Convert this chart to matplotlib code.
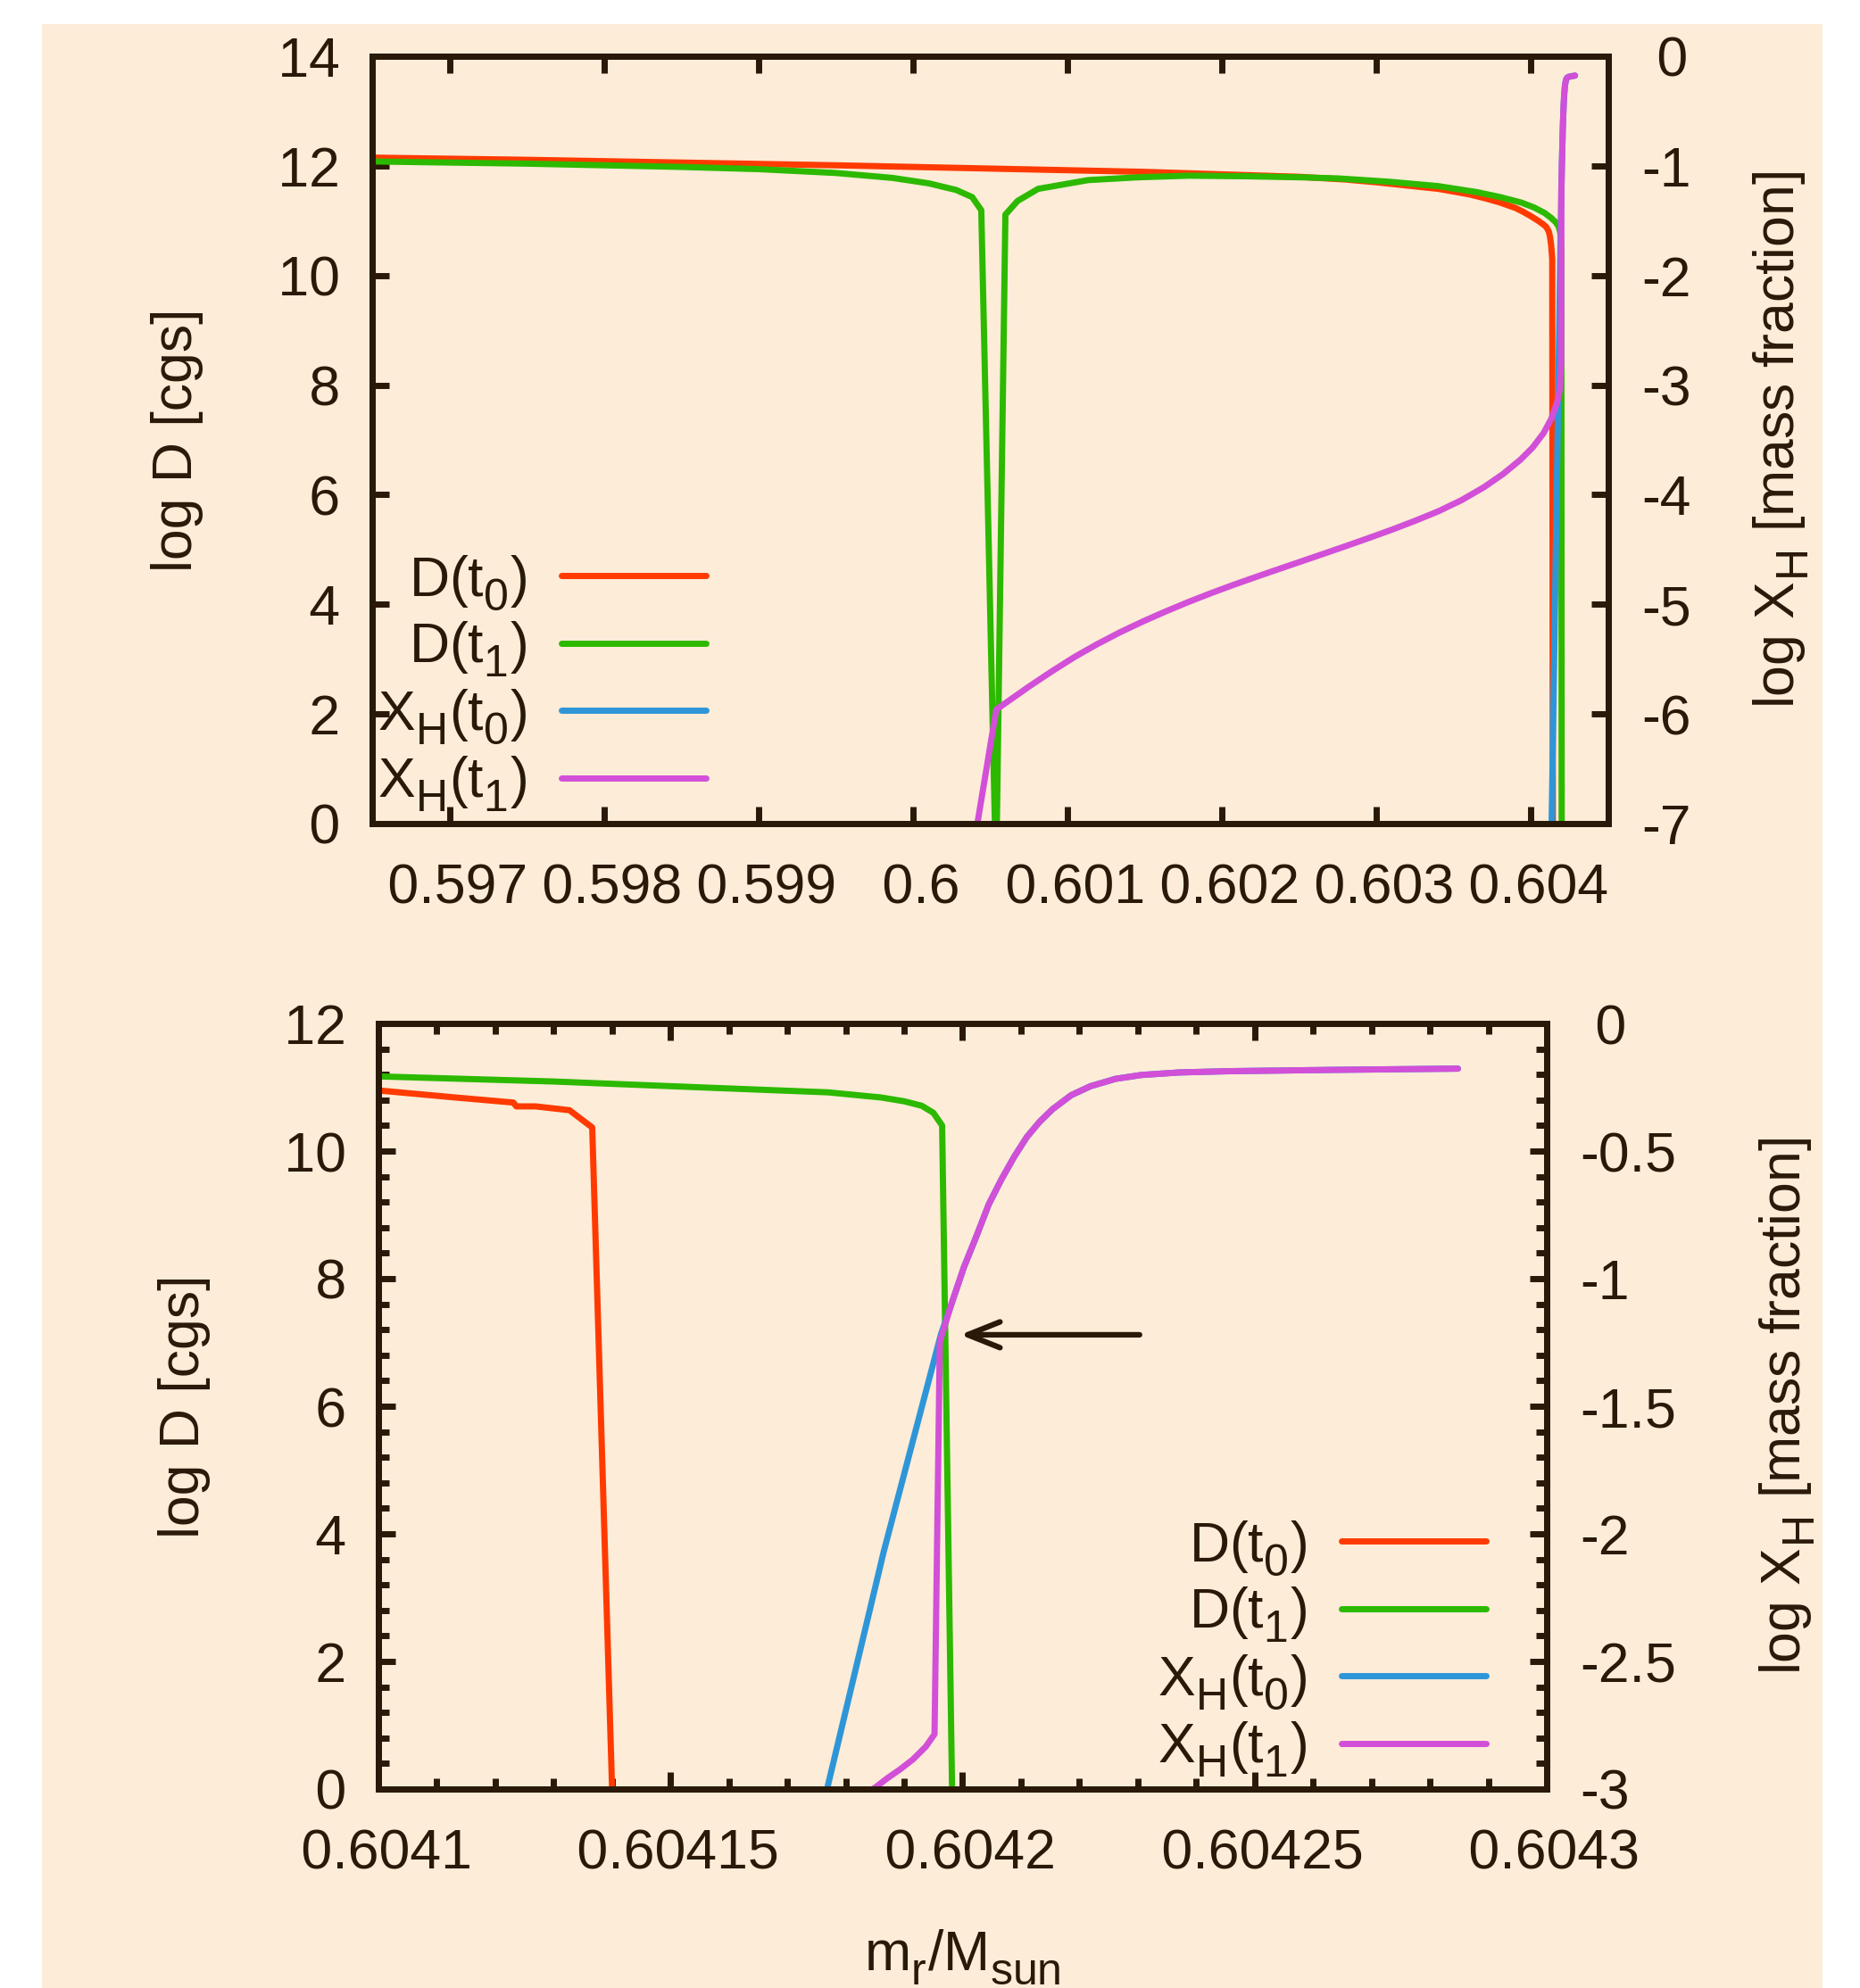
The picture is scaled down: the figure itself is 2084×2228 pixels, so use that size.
import numpy as np
import matplotlib
matplotlib.use('Agg')
import matplotlib.pyplot as plt
from matplotlib.patches import Rectangle

try:
    import matplotlib._mathtext as _mt
    _mt.SHRINK_FACTOR = 0.8
    _mt.FontConstantsBase.sub1 = 0.5
except Exception:
    pass

plt.rcParams['font.family'] = ['Liberation Sans', 'DejaVu Sans']
plt.rcParams['mathtext.fontset'] = 'custom'
plt.rcParams['mathtext.rm'] = 'Liberation Sans'
plt.rcParams['mathtext.it'] = 'Liberation Sans:italic'
plt.rcParams['mathtext.bf'] = 'Liberation Sans:bold'
plt.rcParams['mathtext.default'] = 'rm'

# ---------------- data: top panel ----------------
top_x_d0 = [0.5965, 0.5975, 0.5985, 0.5995, 0.6005, 0.6015, 0.6025, 0.6028, 0.6030, 0.6032,
            0.6034, 0.6036, 0.6037, 0.6038, 0.6039, 0.60395, 0.6040, 0.60405, 0.60408,
            0.60410, 0.604115, 0.604123, 0.60413, 0.604137, 0.604141]
top_d0 = [12.15, 12.11, 12.06, 12.01, 11.95, 11.89, 11.80, 11.75, 11.70, 11.64,
          11.58, 11.48, 11.41, 11.33, 11.23, 11.16, 11.08, 10.99, 10.93,
          10.88, 10.80, 10.70, 10.55, 10.30, -0.3]

top_x_d1 = [0.5965, 0.5975, 0.5985, 0.5990, 0.5995, 0.599867, 0.600103, 0.600279, 0.600383,
            0.600442, 0.600538, 0.600598, 0.600677, 0.600810, 0.601134, 0.601450, 0.601782,
            0.602150, 0.602518, 0.602754, 0.603080, 0.603399, 0.603650, 0.603800, 0.603937,
            0.604020, 0.604088, 0.60413, 0.60416, 0.604177, 0.604186, 0.604193,
            0.604196, 0.6041983]
top_d1 = [12.08, 12.04, 11.98, 11.94, 11.87, 11.78, 11.68, 11.56, 11.43,
          11.19, -1.0, 11.11, 11.36, 11.58, 11.74, 11.79, 11.82,
          11.81, 11.79, 11.77, 11.71, 11.63, 11.52, 11.43, 11.33,
          11.24, 11.14, 11.05, 10.97, 10.90, 10.82, 10.72,
          10.40, -0.3]

top_x_x0 = [0.604131, 0.6041768, 0.6041865, 0.6041963, 0.6041980, 0.6042002, 0.6042024,
            0.6042045, 0.6042067, 0.6042089, 0.6042110, 0.6042132, 0.6042154, 0.6042186,
            0.6042219, 0.6042262, 0.6042306, 0.6042371, 0.6042458, 0.6042631, 0.6042848]
top_x0 = [-7.2, -3.0, -2.07, -1.218, -1.106, -0.957, -0.832,
          -0.708, -0.609, -0.520, -0.445, -0.385, -0.336, -0.281,
          -0.246, -0.217, -0.202, -0.192, -0.187, -0.182, -0.177]

top_x_x1 = [0.600405, 0.600539, 0.600640, 0.600751, 0.600900, 0.601046, 0.601190, 0.601340,
            0.601490, 0.601635, 0.601780, 0.601929, 0.602075, 0.602224, 0.602370, 0.602518,
            0.602665, 0.602813, 0.602960, 0.603107, 0.603255, 0.603402, 0.603550, 0.603697,
            0.603820, 0.603932, 0.604010, 0.604080, 0.604130, 0.604168, 0.604185,
            0.6041937, 0.6041952, 0.6041961, 0.6041965, 0.6041980, 0.6042002, 0.6042024,
            0.6042045, 0.6042067, 0.6042089, 0.6042110, 0.6042132, 0.6042154, 0.6042186,
            0.6042219, 0.6042262, 0.6042306, 0.6042371, 0.6042458, 0.6042631, 0.6042848]
top_x1 = [-7.1, -5.96, -5.86, -5.75, -5.61, -5.48, -5.365, -5.255,
          -5.155, -5.065, -4.98, -4.898, -4.822, -4.748, -4.677, -4.606,
          -4.535, -4.463, -4.39, -4.315, -4.235, -4.15, -4.05, -3.93,
          -3.81, -3.68, -3.57, -3.44, -3.31, -3.16, -3.05,
          -2.834, -2.785, -1.25, -1.218, -1.106, -0.957, -0.832,
          -0.708, -0.609, -0.520, -0.445, -0.385, -0.336, -0.281,
          -0.246, -0.217, -0.202, -0.192, -0.187, -0.182, -0.177]

# ---------------- data: bottom panel ----------------
bot_x_d0 = [0.6041, 0.6041131, 0.6041231, 0.6041236, 0.6041269, 0.6041327, 0.6041366,
            0.6041400, 0.6041404]
bot_d0 = [10.95, 10.84, 10.76, 10.70, 10.70, 10.64, 10.37, 0.0, -0.15]

bot_x_d1 = [0.6041, 0.6041300, 0.6041574, 0.604177, 0.604186, 0.604190, 0.604193, 0.604195,
            0.6041965, 0.6041982, 0.6041983]
bot_d1 = [11.17, 11.09, 10.99, 10.92, 10.84, 10.78, 10.71, 10.60,
          10.40, 0.0, -0.15]

bot_x_x0 = [0.6041757, 0.6041768, 0.6041865, 0.6041963, 0.6041980, 0.6042002, 0.6042024,
            0.6042045, 0.6042067, 0.6042089, 0.6042110, 0.6042132, 0.6042154, 0.6042186,
            0.6042219, 0.6042262, 0.6042306, 0.6042371, 0.6042458, 0.6042631, 0.6042848]
bot_x0 = [-3.1, -3.0, -2.07, -1.218, -1.106, -0.957, -0.832,
          -0.708, -0.609, -0.520, -0.445, -0.385, -0.336, -0.281,
          -0.246, -0.217, -0.202, -0.192, -0.187, -0.182, -0.177]

bot_x_x1 = [0.604180, 0.6041850, 0.6041871, 0.6041893, 0.6041915, 0.6041937, 0.6041952,
            0.6041961, 0.6041965, 0.6041980, 0.6042002, 0.6042024, 0.6042045, 0.6042067,
            0.6042089, 0.6042110, 0.6042132, 0.6042154, 0.6042186, 0.6042219, 0.6042262,
            0.6042306, 0.6042371, 0.6042458, 0.6042631, 0.6042848]
bot_x1 = [-3.06, -2.995, -2.958, -2.923, -2.884, -2.834, -2.785,
          -1.25, -1.218, -1.106, -0.957, -0.832, -0.708, -0.609,
          -0.520, -0.445, -0.385, -0.336, -0.281, -0.246, -0.217,
          -0.202, -0.192, -0.187, -0.182, -0.177]

labels = ['D(t$_0$)', 'D(t$_1$)', 'X$_H$(t$_0$)', 'X$_H$(t$_1$)']

top_xticks = [0.597, 0.598, 0.599, 0.600, 0.601, 0.602, 0.603, 0.604]
top_yticks = [0, 2, 4, 6, 8, 10, 12, 14]
top_y2ticks = [-7, -6, -5, -4, -3, -2, -1, 0]
bot_xticks = [0.6041, 0.60415, 0.6042, 0.60425, 0.6043]
bot_yticks = [0, 2, 4, 6, 8, 10, 12]
bot_y2ticks = [-3, -2.5, -2, -1.5, -1, -0.5, 0]

arrow_tip = (0.6041996, -1.22)
arrow_tail = (0.6042303, -1.22)

# ---------------- style ----------------
INK = '#2a1908'
BG = '#fdecd8'
COLORS = ['#ff3a00', '#2cb900', '#2e96d8', '#d24fd8']
LW = 5.0
FS = 45
W, H = 2084, 2228

fig = plt.figure(figsize=(W / 100, H / 100), dpi=100)
fig.patch.set_facecolor('white')
fig.add_artist(Rectangle((47 / W, 0), (2042 - 47) / W, 1 - 27 / H,
                         transform=fig.transFigure, facecolor=BG,
                         edgecolor='none', zorder=-10))


def fmt(v):
    return f'{v: g}'


def make_panel(rect, xlim, ylim, y2lim, xticks, yticks, y2ticks, minor,
               data, leg_anchor, ylab_x, y2lab_x):
    l, r, t, b = rect
    ax = fig.add_axes([l / W, 1 - b / H, (r - l) / W, (b - t) / H])
    ax.set_facecolor('none')
    ax2 = ax.twinx()
    ax.set_xlim(*xlim)
    ax.set_ylim(*ylim)
    ax2.set_ylim(*y2lim)

    kw = dict(lw=LW, solid_capstyle='round', solid_joinstyle='round')
    lines = []
    (xa, ya), (xb, yb), (xc, yc), (xd, yd) = data
    lines += ax.plot(xa, ya, color=COLORS[0], **kw)
    lines += ax.plot(xb, yb, color=COLORS[1], **kw)
    lines += ax2.plot(xc, yc, color=COLORS[2], **kw)
    lines += ax2.plot(xd, yd, color=COLORS[3], **kw)

    ax.set_xticks(xticks, [fmt(v) for v in xticks])
    ax.set_yticks(yticks, [fmt(v) for v in yticks])
    ax2.set_yticks(y2ticks, [fmt(v) for v in y2ticks])
    for a in (ax, ax2):
        for s in a.spines.values():
            s.set_linewidth(5)
            s.set_color(INK)
            s.set_capstyle('projecting')
    ax.tick_params(axis='both', which='major', direction='in', length=14, width=5,
                   color=INK, labelcolor=INK, labelsize=FS)
    ax.tick_params(axis='x', which='both', top=True, bottom=True, pad=31)
    ax.tick_params(axis='y', which='both', left=True, right=False, pad=26)
    ax2.tick_params(axis='y', which='major', direction='in', length=14, width=5,
                    color=INK, labelcolor=INK, labelsize=FS, pad=27)
    for lab in ax2.get_yticklabels():
        lab.set_horizontalalignment('left')
    if minor is not None:
        mx, my, my2 = minor
        ax.set_xticks(np.arange(xlim[0], xlim[1] + mx / 2, mx), minor=True)
        ax.set_yticks(np.arange(ylim[0], ylim[1] + my / 2, my), minor=True)
        ax2.set_yticks(np.arange(y2lim[0], y2lim[1] + my2 / 2, my2), minor=True)
        ax.tick_params(which='minor', direction='in', length=8.5, width=5, color=INK)
        ax2.tick_params(which='minor', direction='in', length=8.5, width=5, color=INK)

    leg = ax2.legend(lines, labels, loc='center right', bbox_to_anchor=leg_anchor,
                     frameon=False, markerfirst=False, fontsize=FS,
                     handlelength=2.59, handletextpad=0.62, labelspacing=0.147,
                     borderpad=0, borderaxespad=0)
    for tx in leg.get_texts():
        tx.set_color(INK)

    yc_ = 1 - (t + b) / 2 / H
    fig.text(ylab_x / W, yc_, 'log D [cgs]', rotation=90, ha='center', va='center',
             fontsize=FS, color=INK)
    fig.text(y2lab_x / W, yc_, 'log X$_H$ [mass fraction]', rotation=90, ha='center',
             va='center', fontsize=FS, color=INK)
    return ax, ax2


top_ax, top_ax2 = make_panel(
    (417, 1802, 63, 923), (0.5965, 0.6045), (0, 14), (-7, 0),
    top_xticks, top_yticks, top_y2ticks, None,
    [(top_x_d0, top_d0), (top_x_d1, top_d1), (top_x_x0, top_x0), (top_x_x1, top_x1)],
    ((791 - 417) / (1802 - 417), (923 - 766) / (923 - 63)), 199, 1996)

bot_ax, bot_ax2 = make_panel(
    (424, 1733, 1147, 2005), (0.6041, 0.6043), (0, 12), (-3, 0),
    bot_xticks, bot_yticks, bot_y2ticks, (0.00001, 0.4, 0.1),
    [(bot_x_d0, bot_d0), (bot_x_d1, bot_d1), (bot_x_x0, bot_x0), (bot_x_x1, bot_x1)],
    ((1665 - 424) / (1733 - 424), (2005 - 1848) / (2005 - 1147)), 206, 2003)

bot_ax2.annotate('', xy=arrow_tip, xytext=arrow_tail,
                 arrowprops=dict(arrowstyle='->,head_length=1.0,head_width=0.4',
                                 lw=4.5, color=INK, mutation_scale=26,
                                 shrinkA=0, shrinkB=0, capstyle='round',
                                 joinstyle='round'))

fig.text(1078 / W, 1 - 2208 / H, 'm$_r$/M$_{sun}$', ha='center', va='baseline',
         fontsize=FS, color=INK)

fig.savefig('out.png', dpi=100, facecolor='white')
